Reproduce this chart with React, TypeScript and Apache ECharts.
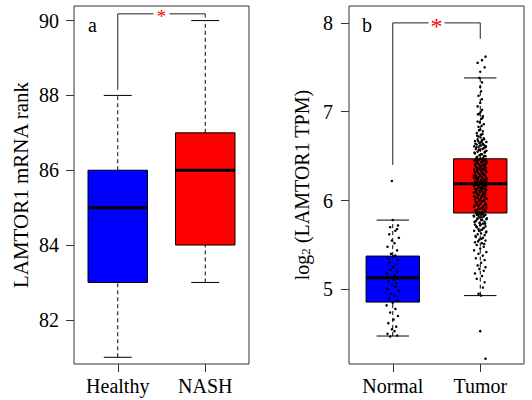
import React, { useEffect, useRef } from 'react';
import * as echarts from 'echarts';

const FONT = '"Liberation Serif", "Times New Roman", Times, serif';

// ---- Panel a data ----
const panelACategories = ['Healthy', 'NASH'];
// [low whisker, Q1, median, Q3, high whisker]
const panelABoxes = [
  [81, 83, 85, 86, 88],
  [83, 84, 86, 87, 90],
];
const panelATicks = [82, 84, 86, 88, 90];
// [left leg start, top, right leg end]
const panelABracket = [88.15, 90.18, 90.08];

// ---- Panel b data ----
const panelBCategories = ['Normal', 'Tumor'];
const panelBBoxes = [
  [4.475, 4.857, 5.13, 5.375, 5.78],
  [4.93, 5.86, 6.19, 6.47, 7.38],
];
const panelBTicks = [5, 6, 7, 8];
const panelBBracket = [6.4, 8.0, 7.82];

const boxColors = ['#0000FF', '#FF0000'];

// jittered observations: [x offset within category, value]
const normalPoints = [
  [-0.03, 4.47], [0.05, 4.48], [-0.06, 4.5], [0.02, 4.53], [-0.01, 4.55], [0.04, 4.58], [-0.05, 4.62], [0.01, 4.66], [0.06, 4.7], [-0.03, 4.74], [0.03, 4.78], [-0.07, 4.82], [0.0, 4.85],
  [0.05, 4.87], [-0.04, 4.9], [0.02, 4.93], [-0.02, 4.95], [0.07, 4.98], [-0.06, 5.0], [0.03, 5.03], [-0.01, 5.05], [0.04, 5.07], [-0.05, 5.09], [0.01, 5.11], [0.06, 5.12],
  [-0.03, 5.14], [0.02, 5.16], [-0.07, 5.18], [0.05, 5.2], [-0.02, 5.22], [0.0, 5.25], [0.04, 5.28], [-0.04, 5.3], [0.06, 5.33], [-0.05, 5.35], [0.01, 5.37], [0.03, 5.38],
  [-0.02, 5.4], [0.05, 5.44], [-0.06, 5.48], [0.02, 5.52], [-0.01, 5.55], [0.07, 5.58], [-0.04, 5.62], [0.03, 5.66], [0.05, 5.68], [-0.03, 5.7], [0.06, 5.72], [0.0, 5.78],
  [-0.01, 6.22],
];

const tumorPoints = [
  [0.06, 4.22], [0.0, 4.53],
  [0.01, 4.93], [-0.02, 4.95], [0.03, 5.02], [0.05, 5.08], [-0.04, 5.12], [0.02, 5.15], [-0.06, 5.18], [0.04, 5.21], [-0.01, 5.23], [0.06, 5.25], [-0.03, 5.27], [0.01, 5.3], [0.05, 5.33], [-0.05, 5.35], [0.03, 5.38], [-0.02, 5.4], [0.07, 5.42], [-0.07, 5.44], [0.0, 5.46], [0.04, 5.48], [-0.04, 5.5], [0.02, 5.52], [-0.06, 5.53], [0.06, 5.55], [-0.01, 5.56], [0.03, 5.58], [-0.05, 5.59], [0.05, 5.61], [-0.03, 5.62], [0.01, 5.63], [0.07, 5.65], [-0.07, 5.66], [0.02, 5.67], [-0.02, 5.68], [0.04, 5.69], [-0.04, 5.7], [0.06, 5.71], [0.0, 5.72], [-0.06, 5.73], [0.03, 5.74], [-0.01, 5.75], [0.05, 5.76], [-0.05, 5.77], [0.01, 5.78], [0.07, 5.79], [-0.03, 5.8], [0.02, 5.81], [-0.07, 5.82], [0.04, 5.82], [-0.02, 5.83], [0.06, 5.84], [-0.04, 5.84], [0.0, 5.85], [0.03, 5.85],
  [-0.05, 5.86], [0.02, 5.87], [-0.01, 5.87], [0.06, 5.88], [-0.06, 5.89], [0.04, 5.9], [-0.03, 5.9], [0.01, 5.91], [0.07, 5.92], [-0.07, 5.93], [0.03, 5.93], [-0.02, 5.94], [0.05, 5.95], [-0.04, 5.96], [0.0, 5.96], [0.06, 5.97], [-0.05, 5.98], [0.02, 5.99], [-0.01, 6.0], [0.04, 6.0], [-0.06, 6.01], [0.07, 6.02], [-0.03, 6.03], [0.01, 6.03], [0.05, 6.04], [-0.07, 6.05], [0.03, 6.06], [-0.02, 6.06], [0.06, 6.07], [-0.04, 6.08], [0.0, 6.09], [0.04, 6.09], [-0.05, 6.1], [0.02, 6.11], [-0.01, 6.11], [0.07, 6.12], [-0.06, 6.13], [0.05, 6.13], [-0.03, 6.14], [0.01, 6.15], [0.03, 6.15], [-0.07, 6.16], [0.06, 6.16], [-0.02, 6.17], [0.04, 6.17], [-0.04, 6.18], [0.0, 6.18], [0.02, 6.19], [-0.05, 6.19],
  [0.05, 6.2], [-0.01, 6.2], [0.03, 6.21], [-0.06, 6.21], [0.07, 6.22], [-0.03, 6.22], [0.01, 6.23], [-0.04, 6.24], [0.04, 6.24], [-0.07, 6.25], [0.02, 6.26], [-0.02, 6.26], [0.06, 6.27], [-0.05, 6.28], [0.0, 6.28], [0.05, 6.29], [-0.01, 6.3], [0.03, 6.3], [-0.06, 6.31], [0.07, 6.32], [-0.03, 6.32], [0.01, 6.33], [-0.04, 6.34], [0.04, 6.34], [-0.07, 6.35], [0.02, 6.36], [-0.02, 6.36], [0.06, 6.37], [-0.05, 6.38], [0.0, 6.38], [0.05, 6.39], [-0.01, 6.4], [0.03, 6.4], [-0.06, 6.41], [0.07, 6.42], [-0.03, 6.42], [0.01, 6.43], [-0.04, 6.44], [0.04, 6.44], [-0.07, 6.45], [0.02, 6.45], [-0.02, 6.46], [0.06, 6.46], [-0.05, 6.47], [0.0, 6.47],
  [0.03, 6.48], [-0.04, 6.49], [0.06, 6.5], [-0.01, 6.51], [0.02, 6.52], [-0.06, 6.53], [0.05, 6.54], [-0.03, 6.55], [0.07, 6.56], [0.0, 6.57], [-0.05, 6.58], [0.04, 6.59], [-0.02, 6.6], [0.06, 6.6], [-0.07, 6.61], [0.01, 6.62], [0.05, 6.62], [-0.04, 6.63], [0.03, 6.64], [-0.01, 6.65], [0.07, 6.66], [-0.06, 6.67], [0.02, 6.68], [-0.03, 6.69], [0.04, 6.7], [-0.02, 6.72], [0.01, 6.74], [-0.04, 6.76], [0.03, 6.78], [0.0, 6.8], [-0.02, 6.83], [0.04, 6.86], [-0.03, 6.89], [0.01, 6.92], [0.03, 6.95], [-0.01, 6.98], [0.02, 7.02], [-0.03, 7.06], [0.0, 7.1], [0.02, 7.14], [-0.02, 7.18], [0.01, 7.23], [0.0, 7.28], [0.02, 7.33], [-0.01, 7.38],
  [0.0, 7.45], [0.05, 7.5], [-0.03, 7.55], [0.02, 7.58], [0.06, 7.62],
  [0.045, 5.51], [-0.025, 5.54], [0.015, 5.57], [-0.055, 5.6], [0.065, 5.64], [-0.015, 5.66], [0.035, 5.69], [-0.045, 5.71], [0.005, 5.73], [0.055, 5.74], [-0.065, 5.76], [0.025, 5.78], [-0.035, 5.79], [0.075, 5.8], [-0.005, 5.81], [0.045, 5.83], [-0.075, 5.83], [0.015, 5.84], [-0.025, 5.85], [0.035, 5.86],
  [-0.045, 5.88], [0.055, 5.89], [-0.015, 5.91], [0.025, 5.92], [-0.065, 5.94], [0.065, 5.95], [0.005, 5.97], [-0.035, 5.98], [0.045, 6.0], [-0.005, 6.01], [0.075, 6.02], [-0.055, 6.04], [0.015, 6.05], [-0.025, 6.07], [0.035, 6.08], [-0.075, 6.09], [0.055, 6.1], [-0.045, 6.12], [0.005, 6.13], [0.025, 6.14], [-0.015, 6.15], [0.065, 6.16], [-0.065, 6.17], [0.045, 6.18], [-0.035, 6.18], [0.015, 6.19], [-0.005, 6.19],
  [0.035, 6.2], [-0.055, 6.21], [0.005, 6.22], [0.055, 6.23], [-0.025, 6.24], [0.075, 6.25], [-0.045, 6.26], [0.015, 6.27], [-0.075, 6.28], [0.045, 6.29], [-0.015, 6.3], [0.025, 6.31], [-0.065, 6.33], [0.065, 6.34], [-0.005, 6.35], [0.035, 6.36], [-0.035, 6.37], [0.005, 6.39], [-0.055, 6.4], [0.055, 6.41], [-0.025, 6.42], [0.015, 6.43], [0.075, 6.44], [-0.045, 6.45], [0.045, 6.46], [-0.015, 6.46], [0.025, 6.47],
  [-0.035, 6.49], [0.045, 6.5], [0.005, 6.52], [-0.065, 6.54], [0.055, 6.55], [-0.015, 6.57], [0.025, 6.58], [-0.045, 6.6], [0.065, 6.61], [-0.005, 6.62], [0.035, 6.63], [-0.055, 6.64], [0.015, 6.66], [-0.025, 6.67], [0.045, 6.69], [0.005, 6.71], [-0.035, 6.73], [0.025, 6.75], [-0.015, 6.79], [0.015, 6.84], [-0.005, 6.88], [0.025, 6.93], [-0.025, 6.97], [0.005, 7.0],
];

const AXIS_COLOR = '#333';
const FS = 20;

function boxRenderer(widthFrac: number, capFrac: number) {
  return (params: any, api: any) => {
    const idx = api.value(0);
    const low = api.coord([idx, api.value(1)]);
    const q1 = api.coord([idx, api.value(2)]);
    const med = api.coord([idx, api.value(3)]);
    const q3 = api.coord([idx, api.value(4)]);
    const high = api.coord([idx, api.value(5)]);
    const band = api.size([1, 0])[0];
    const w = band * widthFrac;
    const cw = band * capFrac;
    const cx = low[0];
    const dash = { stroke: '#000', lineWidth: 1, lineDash: [4, 3], fill: null };
    const solid = { stroke: '#000', lineWidth: 1, fill: null };
    return {
      type: 'group',
      children: [
        { type: 'line', shape: { x1: cx, y1: low[1], x2: cx, y2: q1[1] }, style: dash },
        { type: 'line', shape: { x1: cx, y1: q3[1], x2: cx, y2: high[1] }, style: dash },
        { type: 'line', shape: { x1: cx - cw / 2, y1: low[1], x2: cx + cw / 2, y2: low[1] }, style: solid },
        { type: 'line', shape: { x1: cx - cw / 2, y1: high[1], x2: cx + cw / 2, y2: high[1] }, style: solid },
        {
          type: 'rect',
          shape: { x: cx - w / 2, y: q3[1], width: w, height: q1[1] - q3[1] },
          style: { fill: boxColors[idx], stroke: '#000', lineWidth: 1 },
        },
        { type: 'line', shape: { x1: cx - w / 2, y1: med[1], x2: cx + w / 2, y2: med[1] }, style: { stroke: '#000', lineWidth: 3 } },
      ],
    };
  };
}

function bracketRenderer(gapHalf: number, starSize: number) {
  return (params: any, api: any) => {
    const a = api.coord([0, api.value(0)]);
    const top = api.coord([0, api.value(1)]);
    const b = api.coord([1, api.value(2)]);
    const topR = api.coord([1, api.value(1)]);
    const mid = (a[0] + b[0]) / 2;
    const st = { stroke: '#222', lineWidth: 1, fill: null };
    return {
      type: 'group',
      children: [
        { type: 'polyline', shape: { points: [[a[0], a[1]], [a[0], top[1]], [mid - gapHalf, top[1]]] }, style: st },
        { type: 'polyline', shape: { points: [[mid + gapHalf, topR[1]], [b[0], topR[1]], [b[0], b[1]]] }, style: st },
        {
          type: 'text',
          x: mid,
          y: top[1] + starSize * 0.14,
          style: { text: '*', fill: '#FF0000', font: `${starSize}px ${FONT}`, align: 'center', verticalAlign: 'middle' },
        },
      ],
    };
  };
}

function yAxisCfg(grid: number, min: number, max: number, ticks: number[], name: any, nameGap: number, margin: number, nameSize: number, rich?: any) {
  return {
    type: 'value',
    gridIndex: grid,
    min,
    max,
    axisLine: { show: false },
    splitLine: { show: false },
    axisTick: { show: true, inside: false, length: 8, customValues: ticks, lineStyle: { color: AXIS_COLOR } },
    axisLabel: { customValues: ticks, margin, fontFamily: FONT, fontSize: FS, color: '#000' },
    name,
    nameLocation: 'middle',
    nameGap,
    nameTextStyle: { fontFamily: FONT, fontSize: nameSize, color: '#000', rich },
  };
}

function xCatCfg(grid: number, cats: string[]) {
  return {
    type: 'category',
    gridIndex: grid,
    data: cats,
    axisLine: { show: false },
    splitLine: { show: false },
    axisTick: { show: true, alignWithLabel: true, length: 8, lineStyle: { color: AXIS_COLOR } },
    axisLabel: { margin: 12, fontFamily: FONT, fontSize: FS, color: '#000' },
  };
}

export default function App() {
  const ref = useRef<HTMLDivElement>(null);
  useEffect(() => {
    document.body.style.margin = '0';
    const chart = echarts.init(ref.current!, null, { renderer: 'svg' });
    const titleStyle = { fontFamily: FONT, fontSize: FS, fontWeight: 'normal', color: '#000' };
    const option: any = {
      animation: false,
      backgroundColor: '#fff',
      title: [
        { text: 'a', left: 88, top: 15, padding: 0, textStyle: titleStyle },
        { text: 'b', left: 362, top: 15, padding: 0, textStyle: titleStyle },
      ],
      grid: [
        { left: 74, top: 6, width: 175, height: 358, show: true, borderColor: AXIS_COLOR, borderWidth: 1, backgroundColor: 'transparent' },
        { left: 349, top: 6, width: 175, height: 358, show: true, borderColor: AXIS_COLOR, borderWidth: 1, backgroundColor: 'transparent' },
      ],
      xAxis: [
        xCatCfg(0, panelACategories),
        { type: 'value', gridIndex: 0, min: 0, max: 2, show: false },
        xCatCfg(1, panelBCategories),
        { type: 'value', gridIndex: 1, min: 0, max: 2, show: false },
      ],
      yAxis: [
        yAxisCfg(0, 80.82, 90.39, panelATicks, 'LAMTOR1 mRNA rank', 43, 15, 21),
        yAxisCfg(1, 4.16, 8.19, panelBTicks, '{n|log}{s|2}{n| (LAMTOR1 TPM)}', 37, 16, FS, {
          n: { fontFamily: FONT, fontSize: FS, color: '#000', lineHeight: 22, verticalAlign: 'bottom' },
          s: { fontFamily: FONT, fontSize: 13, color: '#000', lineHeight: 14, verticalAlign: 'bottom' },
        }),
      ],
      series: [
        {
          type: 'custom',
          xAxisIndex: 0,
          yAxisIndex: 0,
          clip: false,
          renderItem: boxRenderer(0.68, 0.32),
          data: panelABoxes.map((b, i) => [i, ...b]),
          encode: { x: 0, y: [1, 2, 3, 4, 5] },
          z: 2,
        },
        {
          type: 'custom',
          xAxisIndex: 0,
          yAxisIndex: 0,
          clip: false,
          renderItem: bracketRenderer(8, 19),
          data: [panelABracket],
          encode: { y: [0, 1, 2] },
          z: 2,
        },
        {
          type: 'custom',
          xAxisIndex: 2,
          yAxisIndex: 1,
          clip: false,
          renderItem: boxRenderer(0.61, 0.37),
          data: panelBBoxes.map((b, i) => [i, ...b]),
          encode: { x: 0, y: [1, 2, 3, 4, 5] },
          z: 2,
        },
        {
          type: 'scatter',
          xAxisIndex: 3,
          yAxisIndex: 1,
          symbolSize: 2.5,
          itemStyle: { color: '#000', opacity: 1 },
          data: normalPoints.map(([dx, y]) => [0.5 + dx, y]),
          z: 3,
        },
        {
          type: 'scatter',
          xAxisIndex: 3,
          yAxisIndex: 1,
          symbolSize: 2.5,
          itemStyle: { color: '#000', opacity: 1 },
          data: tumorPoints.map(([dx, y]) => [1.5 + dx, y]),
          z: 3,
        },
        {
          type: 'custom',
          xAxisIndex: 2,
          yAxisIndex: 1,
          clip: false,
          renderItem: bracketRenderer(8, 24),
          data: [panelBBracket],
          encode: { y: [0, 1, 2] },
          z: 2,
        },
      ],
    };
    chart.setOption(option);
    return () => chart.dispose();
  }, []);
  return <div ref={ref} style={{ width: 532, height: 400 }} />;
}
